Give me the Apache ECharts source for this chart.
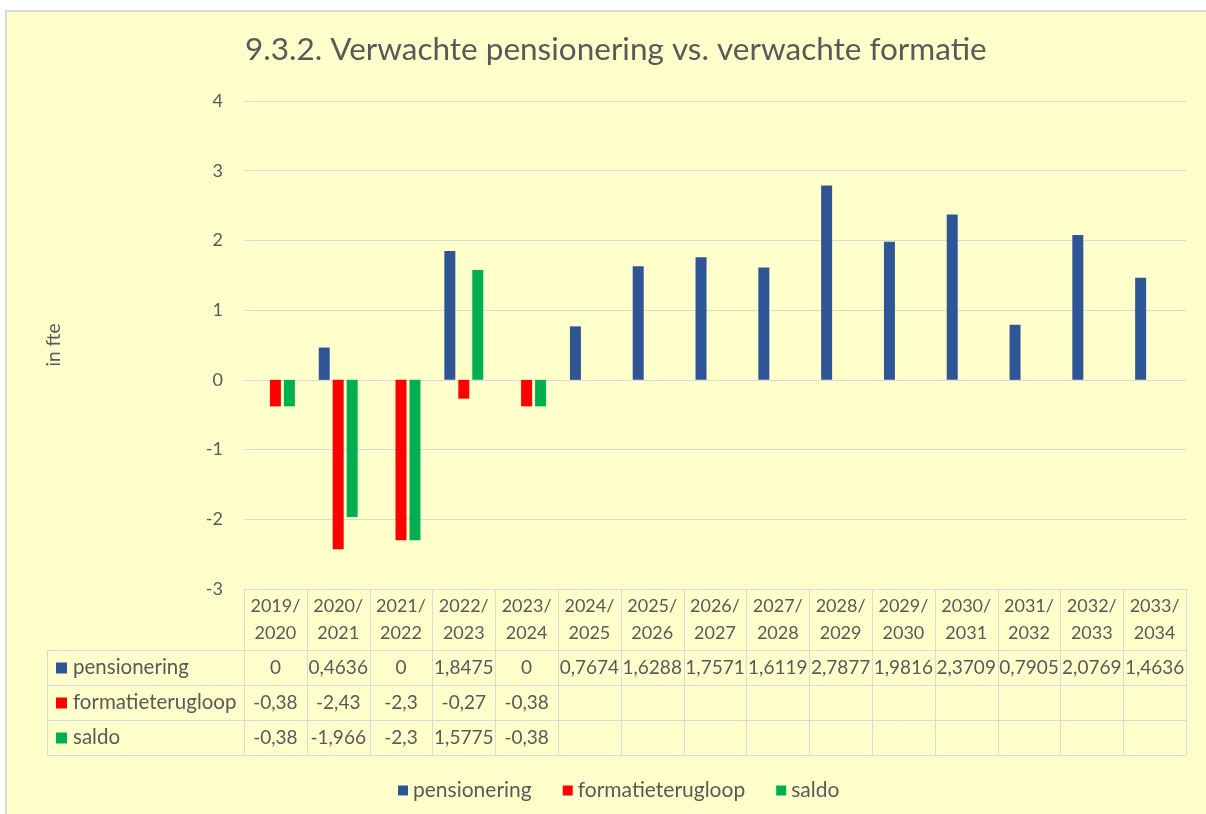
<!DOCTYPE html>
<html lang="nl">
<head>
<meta charset="UTF-8">
<title>9.3.2. Verwachte pensionering vs. verwachte formatie</title>
<script src="https://cdn.jsdelivr.net/npm/echarts@6/dist/echarts.min.js"></script>
<style>
  body, html { margin: 0; padding: 0; background: #fff; }
  #main { width: 1206px; height: 814px; }
</style>
</head>
<body>
<div id="main"></div>
<script>
// data
const categories = ["2019/\n2020", "2020/\n2021", "2021/\n2022", "2022/\n2023", "2023/\n2024",
  "2024/\n2025", "2025/\n2026", "2026/\n2027", "2027/\n2028", "2028/\n2029",
  "2029/\n2030", "2030/\n2031", "2031/\n2032", "2032/\n2033", "2033/\n2034"];
const seriesNames = ["pensionering", "formatieterugloop", "saldo"];
const pensionering = [0, 0.4636, 0, 1.8475, 0, 0.7674, 1.6288, 1.7571, 1.6119, 2.7877, 1.9816, 2.3709, 0.7905, 2.0769, 1.4636];
const formatieterugloop = [-0.38, -2.43, -2.3, -0.27, -0.38, null, null, null, null, null, null, null, null, null, null];
const saldo = [-0.38, -1.966, -2.3, 1.5775, -0.38, null, null, null, null, null, null, null, null, null, null];
const yTicks = { min: -3, max: 4, interval: 1 };

const colors = ["#2F5597", "#FF0000", "#00B050"];
const textColor = "#595959";
const lineColor = "#D9D9D9";
const font = "Lato, 'Liberation Sans', sans-serif";

// layout
const gridLeft = 244, gridRight = 1186, gridTop = 101, gridBottom = 589;
const rowTops = [650, 685, 720, 755];
const labelLeft = 47;

const chart = echarts.init(document.getElementById("main"));
const allData = [pensionering, formatieterugloop, saldo];

const option = {
  backgroundColor: "#fff",
  animation: false,
  textStyle: { fontFamily: font },
  title: {
    text: "9.3.2. Verwachte pensionering vs. verwachte formatie",
    left: 240,
    top: 29,
    textStyle: { fontSize: 31.5, fontWeight: "normal", color: textColor, fontFamily: font },
  },
  legend: {
    data: seriesNames,
    top: 775,
    left: 393,
    icon: "rect",
    itemWidth: 10,
    itemHeight: 10,
    itemGap: 31,
    textStyle: { fontSize: 21, color: textColor, fontFamily: font },
  },
  grid: {
    left: gridLeft,
    right: 1206 - gridRight,
    top: gridTop,
    bottom: 814 - gridBottom,
    containLabel: false,
  },
  xAxis: {
    type: "category",
    data: categories,
    axisLine: { show: false },
    axisTick: { show: false },
    axisLabel: { interval: 0, fontSize: 18, lineHeight: 27, margin: 4, color: textColor, fontFamily: font },
  },
  yAxis: {
    type: "value",
    min: yTicks.min,
    max: yTicks.max,
    interval: yTicks.interval,
    name: "in fte",
    nameLocation: "middle",
    nameGap: 181,
    nameTextStyle: { fontSize: 19, color: textColor, fontFamily: font },
    axisLine: { show: false },
    axisTick: { show: false },
    axisLabel: { fontSize: 18, margin: 21, color: textColor, fontFamily: font },
    splitLine: { lineStyle: { color: lineColor, width: 1 } },
  },
  series: seriesNames.map((name, i) => ({
    name: name,
    type: "bar",
    data: allData[i],
    barWidth: 11,
    barGap: "27%",
    itemStyle: { color: colors[i] },
  })),
};

chart.setOption(option);

// data table under the chart
function fmt(v) {
  if (v === null || v === undefined) return "";
  return String(v).replace(".", ",");
}

const colW = (gridRight - gridLeft) / categories.length;
const g = [];
g.push({
  type: "rect", z: -10, silent: true,
  shape: { x: 6, y: 11, width: 1206, height: 814 },
  style: { fill: "#FFFFCC", stroke: "#D9D9D9", lineWidth: 2 },
});
const lineStyle = { stroke: lineColor, lineWidth: 1 };
rowTops.forEach((y) => {
  g.push({ type: "line", shape: { x1: labelLeft, y1: y + 0.5, x2: gridRight, y2: y + 0.5 }, style: lineStyle });
});
g.push({ type: "line", shape: { x1: labelLeft + 0.5, y1: rowTops[0], x2: labelLeft + 0.5, y2: rowTops[3] }, style: lineStyle });
for (let i = 0; i <= categories.length; i++) {
  const x = Math.round(gridLeft + i * colW) + 0.5;
  g.push({ type: "line", shape: { x1: x, y1: gridBottom, x2: x, y2: rowTops[3] }, style: lineStyle });
}
seriesNames.forEach((name, r) => {
  const yMid = (rowTops[r] + rowTops[r + 1]) / 2;
  g.push({ type: "rect", shape: { x: 56, y: yMid - 5, width: 11, height: 11 }, style: { fill: colors[r] } });
  g.push({
    type: "text", x: 73, y: yMid,
    style: { text: name, fill: textColor, font: "20.5px " + font, verticalAlign: "middle", align: "left" },
  });
  allData[r].forEach((v, i) => {
    const cx = chart.convertToPixel({ xAxisIndex: 0 }, i);
    g.push({
      type: "text", x: cx, y: yMid,
      style: { text: fmt(v), fill: textColor, font: "19px " + font, verticalAlign: "middle", align: "center" },
    });
  });
});
chart.setOption({ graphic: g });
</script>
</body>
</html>
